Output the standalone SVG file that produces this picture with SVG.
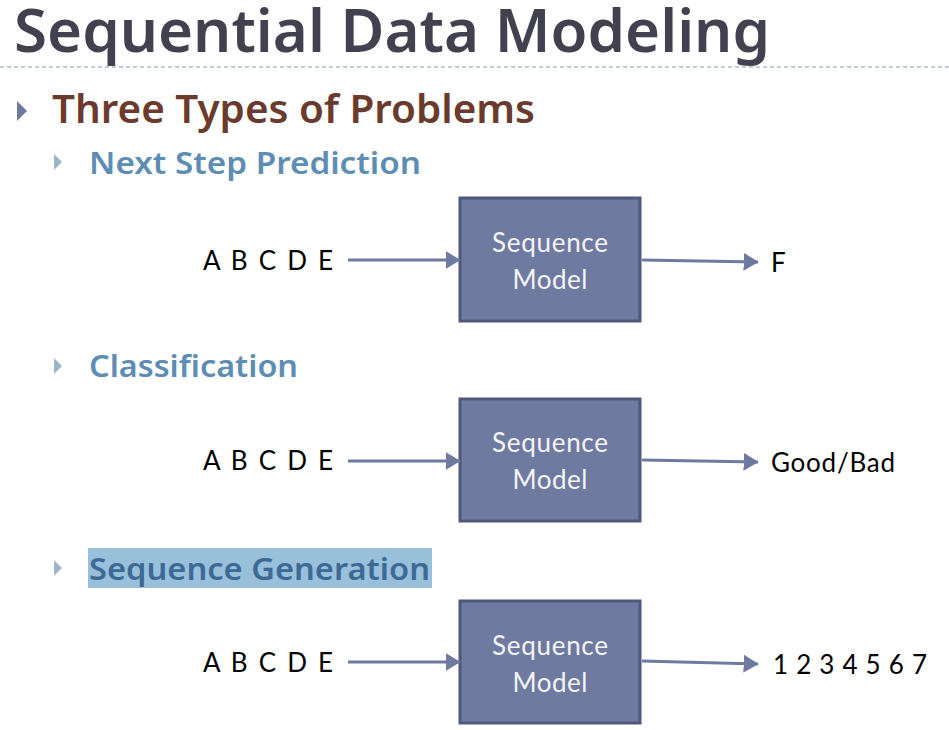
<svg xmlns="http://www.w3.org/2000/svg" width="949" height="730" viewBox="0 0 949 730">
<style>
.title{font-family:"Noto Sans","Open Sans",sans-serif;font-weight:600;font-size:60px;fill:#41414f}
.h1{font-family:"Noto Sans","Open Sans",sans-serif;font-weight:600;font-size:39px;fill:#6a3b2c}
.h2{font-family:"Noto Sans","Open Sans",sans-serif;font-weight:600;font-size:31px;fill:#5e8db3}
.box{fill:#6f7aa0;stroke:#50577a;stroke-width:3}
.bt{font-family:Lato,"Liberation Sans",sans-serif;font-size:26px;fill:#f4f4f8;text-anchor:middle}
.lbl{font-family:Lato,"Liberation Sans",sans-serif;font-size:26px;fill:#000}
.conn{stroke:#6f7aa0;stroke-width:3;fill:none;marker-end:url(#ah)}
</style>
<defs>
<marker id="ah" markerWidth="5" markerHeight="6" refX="4.8" refY="3" orient="auto" markerUnits="strokeWidth">
<path d="M0,0 L5,3 L0,6 Z" fill="#6f7aa0"/>
</marker>
</defs>
<rect width="949" height="730" fill="#fff"/>
<g id="header">
<text class="title" x="14" y="52" textLength="756" lengthAdjust="spacingAndGlyphs">Sequential Data Modeling</text>
<line x1="0" y1="67" x2="949" y2="67" stroke="#aebcc8" stroke-width="1.5" stroke-dasharray="4,3"/>
<path d="M17,101 L27,111 L17,121 Z" fill="#6d7a9c"/>
<text class="h1" x="52" y="123" textLength="483" lengthAdjust="spacingAndGlyphs">Three Types of Problems</text>
</g>
<g id="sub1">
<path d="M54,154 L62,162 L54,170 Z" fill="#9db4c8"/>
<text class="h2" x="89" y="174" textLength="332" lengthAdjust="spacingAndGlyphs">Next Step Prediction</text>
</g>
<g id="sub2">
<path d="M54,358 L62,366 L54,374 Z" fill="#9db4c8"/>
<text class="h2" x="89" y="377" textLength="209" lengthAdjust="spacingAndGlyphs">Classification</text>
</g>
<g id="sub3">
<rect x="88" y="548" width="344" height="40" fill="#99c0da"/>
<path d="M54,560 L62,568 L54,576 Z" fill="#9db4c8"/>
<text class="h2" x="89" y="580" textLength="341" lengthAdjust="spacingAndGlyphs" style="fill:#3d6a94">Sequence Generation</text>
</g>
<g id="in1"><text class="lbl" x="203" y="270" textLength="130">A B C D E</text></g>
<g id="in2"><text class="lbl" x="203" y="470" textLength="130">A B C D E</text></g>
<g id="in3"><text class="lbl" x="203" y="672" textLength="130">A B C D E</text></g>
<g id="model1"><rect class="box" x="460" y="198" width="180" height="123"/><text class="bt" x="550" y="252" textLength="116">Sequence</text><text class="bt" x="550" y="289" textLength="75">Model</text></g>
<g id="model2"><rect class="box" x="460" y="399" width="180" height="122"/><text class="bt" x="550" y="452" textLength="116">Sequence</text><text class="bt" x="550" y="489" textLength="75">Model</text></g>
<g id="model3"><rect class="box" x="460" y="601" width="180" height="122"/><text class="bt" x="550" y="655" textLength="116">Sequence</text><text class="bt" x="550" y="692" textLength="75">Model</text></g>
<g id="out1"><text class="lbl" x="771" y="272">F</text></g>
<g id="out2"><text class="lbl" x="771" y="472" textLength="124">Good/Bad</text></g>
<g id="out3"><text class="lbl" x="773" y="674" textLength="154">1 2 3 4 5 6 7</text></g>
<g id="connectors">
<line class="conn" x1="348" y1="260" x2="460" y2="260"/>
<line class="conn" x1="642" y1="260" x2="758" y2="262"/>
<line class="conn" x1="348" y1="461" x2="460" y2="461"/>
<line class="conn" x1="642" y1="460" x2="758" y2="462"/>
<line class="conn" x1="348" y1="662" x2="460" y2="662"/>
<line class="conn" x1="642" y1="661" x2="758" y2="664"/>
</g>
</svg>
